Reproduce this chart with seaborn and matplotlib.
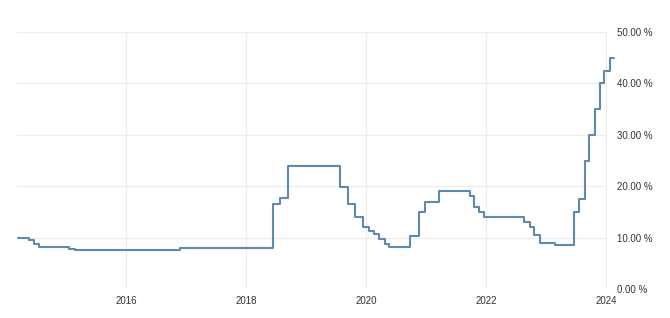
import matplotlib
matplotlib.use("Agg")
import matplotlib.pyplot as plt
import seaborn as sns
import pandas as pd

dates = ["2014-03-15", "2014-05-20", "2014-06-20", "2014-07-20", "2015-01-20", "2015-02-24",
         "2016-11-24", "2018-06-14", "2018-07-25", "2018-09-15", "2019-07-25", "2019-09-12",
         "2019-10-24", "2019-12-12", "2020-01-16", "2020-02-19", "2020-03-17", "2020-04-22",
         "2020-05-21", "2020-09-24", "2020-11-19", "2020-12-24", "2021-03-18", "2021-09-23",
         "2021-10-21", "2021-11-18", "2021-12-16", "2022-08-18", "2022-09-22", "2022-10-20",
         "2022-11-24", "2023-02-23", "2023-06-22", "2023-07-20", "2023-08-24", "2023-09-21",
         "2023-10-26", "2023-11-23", "2023-12-21", "2024-01-25", "2024-02-15"]
rates = [10.0, 9.5, 8.75, 8.25, 7.75, 7.5,
         8.0, 16.5, 17.75, 24.0, 19.75, 16.5,
         14.0, 12.0, 11.25, 10.75, 9.75, 8.75,
         8.25, 10.25, 15.0, 17.0, 19.0, 18.0,
         16.0, 15.0, 14.0, 13.0, 12.0, 10.5,
         9.0, 8.5, 15.0, 17.5, 25.0, 30.0,
         35.0, 40.0, 42.5, 45.0, 45.0]
y_ticks = [0, 10, 20, 30, 40, 50]
x_tick_years = [2016, 2018, 2020, 2022, 2024]

df = pd.DataFrame({"date": pd.to_datetime(dates), "rate": rates})

sns.set_theme(style="white")
plt.rcParams["font.family"] = ["Liberation Sans", "DejaVu Sans"]

W, H = 670, 318
fig = plt.figure(figsize=(W / 100, H / 100), dpi=100)
ax = fig.add_axes([17 / W, (H - 289) / H, (607 - 17) / W, (289 - 32) / H])

sns.lineplot(data=df, x="date", y="rate", ax=ax, drawstyle="steps-post",
             color="#5e8ab0", linewidth=1.5, clip_on=False)

ax.set_xlim(pd.Timestamp("2014-03-08"), pd.Timestamp("2024-01-06"))
ax.set_ylim(0, 50)
ax.set_yticks(y_ticks)
ax.set_yticklabels([f"{v:.2f} %" for v in y_ticks])
ax.set_xticks([pd.Timestamp(f"{y}-01-01") for y in x_tick_years])
ax.set_xticklabels([str(y) for y in x_tick_years])
ax.yaxis.tick_right()
ax.tick_params(axis="y", length=0, pad=7, labelsize=7, labelcolor="#333333")
ax.tick_params(axis="x", length=0, pad=5, labelsize=7, labelcolor="#333333")
ax.grid(True, color="#ececec", linewidth=0.8)
ax.set_axisbelow(True)
for s in ax.spines.values():
    s.set_visible(False)
ax.set_xlabel("")
ax.set_ylabel("")

fig.savefig("out.png", dpi=100)
